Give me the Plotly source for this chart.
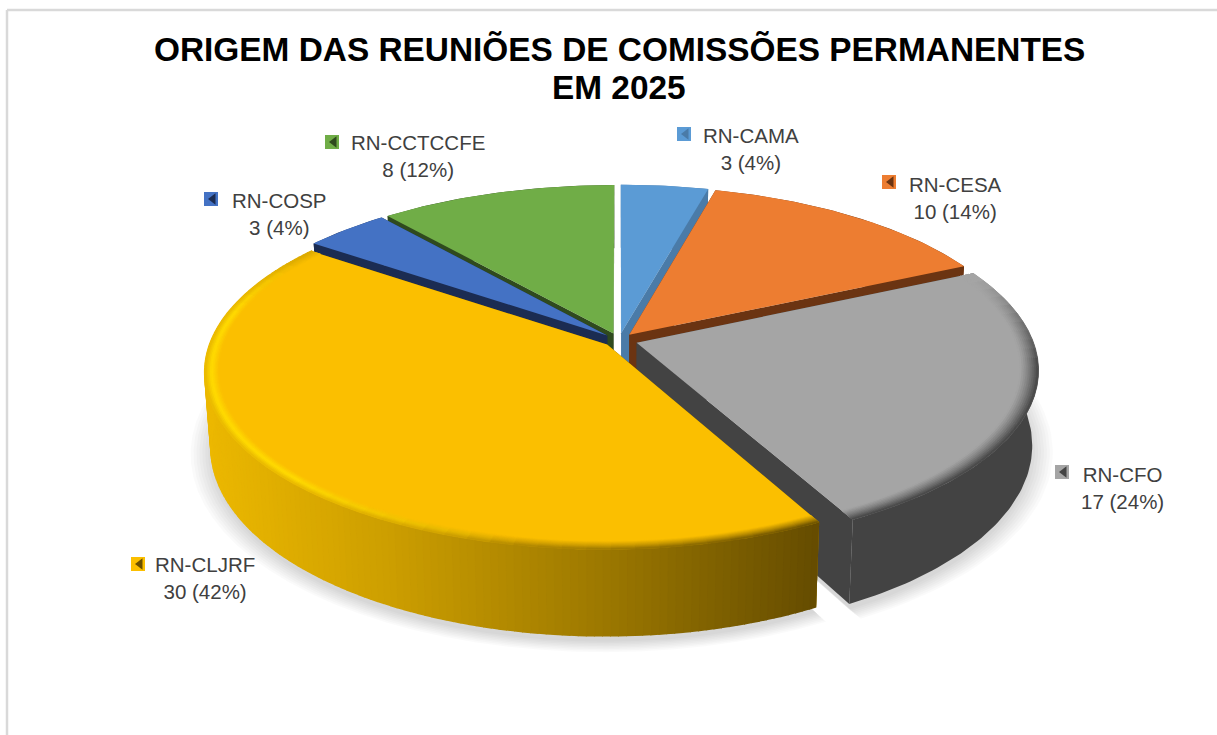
import numpy as np
import plotly.graph_objects as go

# ---- data
categories = ["RN-CAMA", "RN-CESA", "RN-CFO", "RN-CLJRF", "RN-COSP", "RN-CCTCCFE"]
counts = [3, 10, 17, 30, 3, 8]
percents = [4, 14, 24, 42, 4, 12]
title_lines = ["ORIGEM DAS REUNIÕES DE COMISSÕES PERMANENTES", "EM 2025"]

# ---- style
TOP = ["#5b9bd5", "#ed7d31", "#a5a5a5", "#fbbf00", "#4472c4", "#70ad47"]
WALL = ["#4a7ba8", "#6b3412", "#434343", "#6a4f00", "#1b2c52", "#2f4a1e"]
DRAW_ORDER = [0, 1, 5, 4, 2, 3]
LABEL_POS = [(751, 149), (955, 198), (1122, 488), (205, 578), (279, 214), (418, 156)]
KEY_POS = [(684, 134), (889, 182), (1062, 472), (138, 564), (211, 199), (332, 142)]
EXPLODE = [0.04, 0.04, 0.047, 0.04, 0.04, 0.04]
WARP_AT = [0, 15.2, 65.9, 152.1, 304.2, 319.4, 360]
WARP_BY = [0, -0.5, -1.1, 0.1, 1.5, 0.7, 0]

CX, CY, R = 619.0, 340.0, 396.0
P, Q, H, VX, XT = 0.15, 0.436, 73.0, 620.0, 0.985


def hex2rgb(c):
    return np.array([int(c[i:i + 2], 16) for i in (1, 3, 5)], float)


def rgb(v):
    return "rgb(%d,%d,%d)" % tuple(int(round(a)) for a in v)


def mix(stops, t):
    t = float(np.clip(t, 0, 1))
    pos = [s[0] for s in stops]
    cols = np.array([hex2rgb(s[1]) for s in stops])
    return np.array([np.interp(t, pos, cols[:, i]) for i in range(3)])


def proj(r, th, mid, e, scale=1.0):
    th = np.asarray(th, float)
    th = th + np.radians(np.interp(np.degrees(th), WARP_AT, WARP_BY))
    X = r * np.sin(th) + e * np.sin(mid)
    Y = r * np.cos(th) + e * np.cos(mid)
    d = 1 + P * Y
    return CX + R * scale * X / d, CY - R * scale * Q * Y / d, d


def bottom(r, th, mid, e, scale=1.0, extra=0.0):
    x, y, d = proj(r, th, mid, e, scale)
    return VX + (x - VX) * XT, y + (H + extra) / d


fig = go.Figure()


def poly(xs, ys, color, seam=0):
    fig.add_trace(go.Scatter(
        x=list(xs), y=list(ys), mode="lines", fill="toself", fillcolor=color,
        line=dict(color=color, width=seam),
        hoverinfo="skip", showlegend=False))


fractions = np.array(counts, float) / sum(counts)
edges = np.concatenate([[0], np.cumsum(fractions)]) * 2 * np.pi

# soft shadow below the pie
for s in np.linspace(1.05, 1.0, 8):
    xs, ys = [], []
    for k, (th0, th1) in enumerate(zip(edges[:-1], edges[1:])):
        m = (th0 + th1) / 2
        t = np.linspace(th0, th1, 40)
        bx, by = bottom(1.0, t, m, EXPLODE[k], s, extra=5)
        ax_, ay_ = bottom(0.0, t[:1], m, EXPLODE[k], 1.0, extra=5)
        xs += list(ax_) + list(bx) + list(ax_) + [None]
        ys += list(ay_) + list(by) + list(ay_) + [None]
    fig.add_trace(go.Scatter(x=xs, y=ys, mode="lines", fill="toself",
                             fillcolor="rgba(0,0,0,0.018)", line=dict(width=0),
                             hoverinfo="skip", showlegend=False))

YELLOW_WALL = [(0, "#ecb800"), (0.3, "#cc9e00"), (0.65, "#9c7800"), (1, "#654c00")]

for i in DRAW_ORDER:
    th0, th1 = edges[i], edges[i + 1]
    m, e = (th0 + th1) / 2, EXPLODE[i]
    # flat radial walls
    for th in (th0, th1):
        tx, ty, _ = proj(np.array([0.0, 1.0]), np.array([th, th]), m, e)
        bx, by = bottom(np.array([0.0, 1.0]), np.array([th, th]), m, e)
        poly(list(tx) + list(bx[::-1]), list(ty) + list(by[::-1]), WALL[i])
    # curved outer wall
    t = np.linspace(th0, th1, int(np.degrees(th1 - th0) / 1.0) + 2)
    if i == 3:
        tx, ty, _ = proj(1.0, t, m, e)
        bx, by = bottom(1.0, t, m, e)
        poly(list(tx) + list(bx[::-1]), list(ty) + list(by[::-1]), "#a88000")
        for a, b in zip(t[:-1], t[1:]):
            seg = np.array([a, b])
            tx, ty, _ = proj(1.0, seg, m, e)
            bx, by = bottom(1.0, seg, m, e)
            c = rgb(mix(YELLOW_WALL, (tx.mean() - 205) / (818 - 205)))
            poly(list(tx) + list(bx[::-1]), list(ty) + list(by[::-1]), c, seam=1.6)
    else:
        tx, ty, _ = proj(1.0, t, m, e)
        bx, by = bottom(1.0, t, m, e)
        poly(list(tx) + list(bx[::-1]), list(ty) + list(by[::-1]), WALL[i])
    # top face
    tx, ty, _ = proj(1.0, t, m, e)
    ax_, ay_, _ = proj(0.0, np.array([th0]), m, e)
    poly(list(ax_) + list(tx), list(ay_) + list(ty), TOP[i])
    # bevel on the two big slices: inner = top colour, outer blends into the wall
    if i in (2, 3):
        rings = np.linspace(0.966 if i == 3 else 0.955, 1.0, 10)
        t2 = np.linspace(th0, th1, int(np.degrees(th1 - th0) / 3) + 2)
        for r0, r1 in zip(rings[:-1], rings[1:]):
            f = ((r0 + r1) / 2 - rings[0]) / (rings[-1] - rings[0])
            for a, b in zip(t2[:-1], t2[1:]):
                seg = np.array([a, b])
                deg = np.degrees((a + b) / 2)
                x0, y0, _ = proj(r0, seg, m, e)
                x1, y1, _ = proj(r1, seg, m, e)
                top = hex2rgb(TOP[i])
                if i == 3:
                    wall = mix(YELLOW_WALL, (x1.mean() - 205) / (818 - 205))
                    b_ = np.clip((deg - 190) / 35, 0, 1) * np.clip((300 - deg) / 20, 0, 1)
                    mid_c = (top + wall) / 2 * (1 - b_) + hex2rgb("#ffdc00") * b_
                    out_c = wall * (1 - b_) + hex2rgb("#e8b800") * b_
                    c = top + (mid_c - top) * f / 0.55 if f < 0.55 else mid_c + (out_c - mid_c) * (f - 0.55) / 0.45
                else:
                    w = np.clip((deg - 68) / 30, 0, 1)
                    out_c = hex2rgb(WALL[i]) * w + top * (1 - w)
                    c = top + (out_c - top) * f ** 1.3
                poly(list(x0) + list(x1[::-1]), list(y0) + list(y1[::-1]), rgb(c), seam=0.8)

# legend keys and labels
for i, cat in enumerate(categories):
    kx, ky = KEY_POS[i]
    fig.add_trace(go.Scatter(x=[kx], y=[ky], mode="markers", hoverinfo="skip", showlegend=False,
                             marker=dict(symbol="square", size=14, color=TOP[i], line=dict(width=0))))
    fig.add_trace(go.Scatter(x=[kx + 2], y=[ky], mode="markers", hoverinfo="skip", showlegend=False,
                             marker=dict(symbol="triangle-left", size=10, color=WALL[i], line=dict(width=0))))
    lx, ly = LABEL_POS[i]
    fig.add_annotation(x=lx, y=ly, xref="x", yref="y", showarrow=False, align="center",
                       text="%s<br>%d (%d%%)" % (cat, counts[i], percents[i]),
                       font=dict(family="Liberation Sans, Arial", size=20.5, color="#404040"))

for line, ty in zip(title_lines, (49, 87)):
    fig.add_annotation(x=619, y=ty, xref="x", yref="y", showarrow=False,
                       text="<b>%s</b>" % line,
                       font=dict(family="Liberation Sans, Arial", size=33.4, color="#000000"))

fig.update_layout(
    width=1217, height=735, autosize=False, paper_bgcolor="white", plot_bgcolor="white",
    margin=dict(l=0, r=0, t=0, b=0), showlegend=False,
    xaxis=dict(range=[0, 1217], visible=False, fixedrange=True),
    yaxis=dict(range=[735, 0], visible=False, fixedrange=True),
    shapes=[
        dict(type="line", x0=7, x1=1217, y0=10, y1=10, line=dict(color="#d9d9d9", width=2.5)),
        dict(type="line", x0=7, x1=7, y0=10, y1=735, line=dict(color="#d9d9d9", width=2.5)),
    ],
)
fig.write_html("out.html", config={"displayModeBar": False},
               post_script="document.body.style.margin='0';document.body.style.overflow='hidden';")
